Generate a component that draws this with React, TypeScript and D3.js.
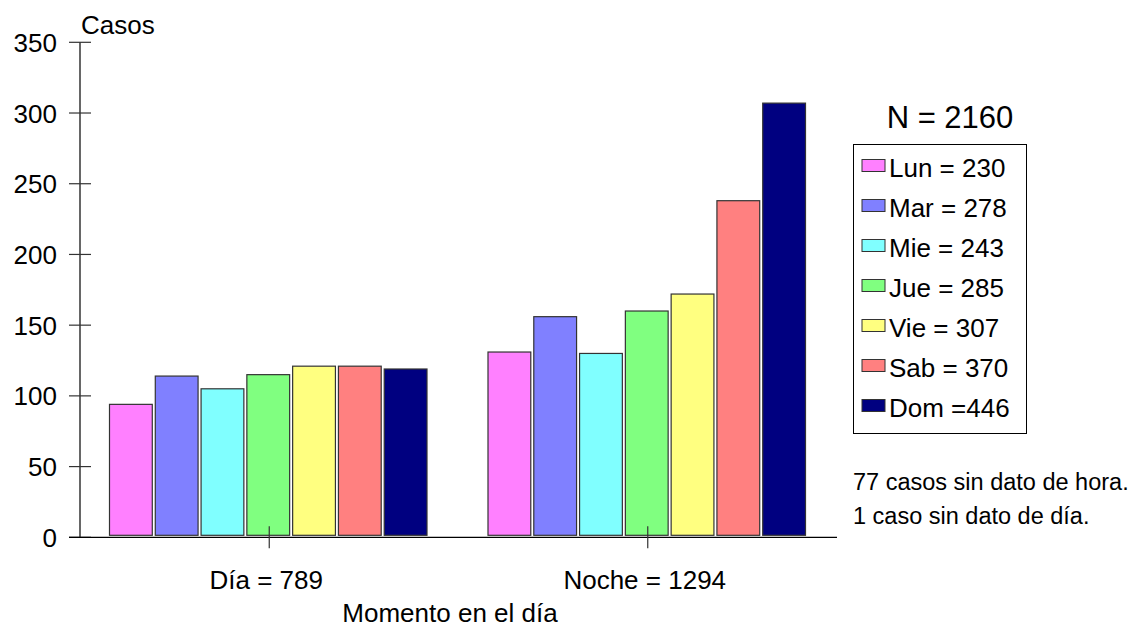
import React from "react";
import * as d3 from "d3";

const categories = ["Día = 789", "Noche = 1294"];
const days = ["Lun", "Mar", "Mie", "Jue", "Vie", "Sab", "Dom"];
const legendLabels = ["Lun = 230", "Mar = 278", "Mie = 243", "Jue = 285", "Vie = 307", "Sab = 370", "Dom =446"];
const diaValues = [94, 114, 105, 115, 121, 121, 119];
const nocheValues = [131, 156, 130, 160, 172, 238, 307];
const colors = ["#FF80FF", "#8080FF", "#80FFFF", "#80FF80", "#FFFF80", "#FF8080", "#000080"];
const yTicks = [0, 50, 100, 150, 200, 250, 300, 350];
const notes = ["77 casos sin dato de hora.", "1 caso sin dato de día."];

const W = 1136;
const H = 634;
const FONT = "'Liberation Sans', Arial, Helvetica, sans-serif";

export default function App() {
  const left = 80;
  const right = 837;
  const top = 42.3;
  const bottom = 537.3;

  const y = d3.scaleLinear().domain([0, 350]).range([bottom, top]);
  const x0 = d3.scaleBand<string>().domain(categories).range([left, right]).padding(0);
  const x1 = d3.scaleBand<string>().domain(days).range([29, x0.bandwidth() - 29]).padding(0);
  const series = [diaValues, nocheValues];

  const legendLeft = 853;
  const legendTop = 144;
  const legendRow = 40;

  return (
    <svg
      width={W}
      height={H}
      style={{ position: "absolute", left: 0, top: 0, background: "#fff" }}
      fontFamily={FONT}
    >
      <rect x={0} y={0} width={W} height={H} fill="#fff" />

      {/* bars */}
      {categories.map((c, ci) => (
        <g key={c} transform={`translate(${x0(c)},0)`}>
          {days.map((d, di) => {
            const v = series[ci][di];
            const bx = (x1(d) as number) + 0.5;
            const bw = x1.bandwidth() - 3;
            const by = y(v);
            return (
              <rect
                key={d}
                x={bx}
                y={by}
                width={bw}
                height={y(0) - 2 - by}
                fill={colors[di]}
                stroke="#333"
                strokeWidth={1.2}
              />
            );
          })}
        </g>
      ))}

      {/* y axis */}
      <line x1={left} x2={left} y1={top} y2={bottom} stroke="#000" strokeWidth={1.2} />
      {yTicks.map((t) => (
        <g key={t}>
          <line x1={69} x2={91} y1={y(t)} y2={y(t)} stroke="#333" strokeWidth={1.2} />
          <text x={57} y={y(t) + 9.5} textAnchor="end" fontSize={26} fill="#000">
            {t}
          </text>
        </g>
      ))}
      <text x={81} y={34} fontSize={26} fill="#000">Casos</text>

      {/* x axis */}
      <line x1={69} x2={right} y1={bottom} y2={bottom} stroke="#000" strokeWidth={1.2} />
      {categories.map((c) => {
        const cx = (x0(c) as number) + x0.bandwidth() / 2;
        return (
          <g key={c}>
            <line x1={cx} x2={cx} y1={bottom - 11} y2={bottom + 11} stroke="#333" strokeWidth={1.2} />
            <text x={cx - 3} y={589} textAnchor="middle" fontSize={26} fill="#000">
              {c}
            </text>
          </g>
        );
      })}
      <text x={450} y={622} textAnchor="middle" fontSize={26} fill="#000">
        Momento en el día
      </text>

      {/* legend */}
      <text x={950} y={128} textAnchor="middle" fontSize={31} fill="#000">N = 2160</text>
      <rect x={legendLeft + 0.5} y={legendTop + 0.5} width={173} height={289} fill="#fff" stroke="#000" strokeWidth={1} />
      {legendLabels.map((l, i) => {
        const cy = legendTop + 23.5 + i * legendRow;
        return (
          <g key={l}>
            <rect x={862} y={cy - 8} width={23} height={12} fill={colors[i]} stroke="#333" strokeWidth={1} />
            <text x={889} y={cy + 9.5} fontSize={26} fill="#000">{l}</text>
          </g>
        );
      })}

      {/* notes */}
      {notes.map((n, i) => (
        <text key={n} x={853} y={490 + i * 34} fontSize={23.5} fill="#000">{n}</text>
      ))}
    </svg>
  );
}
